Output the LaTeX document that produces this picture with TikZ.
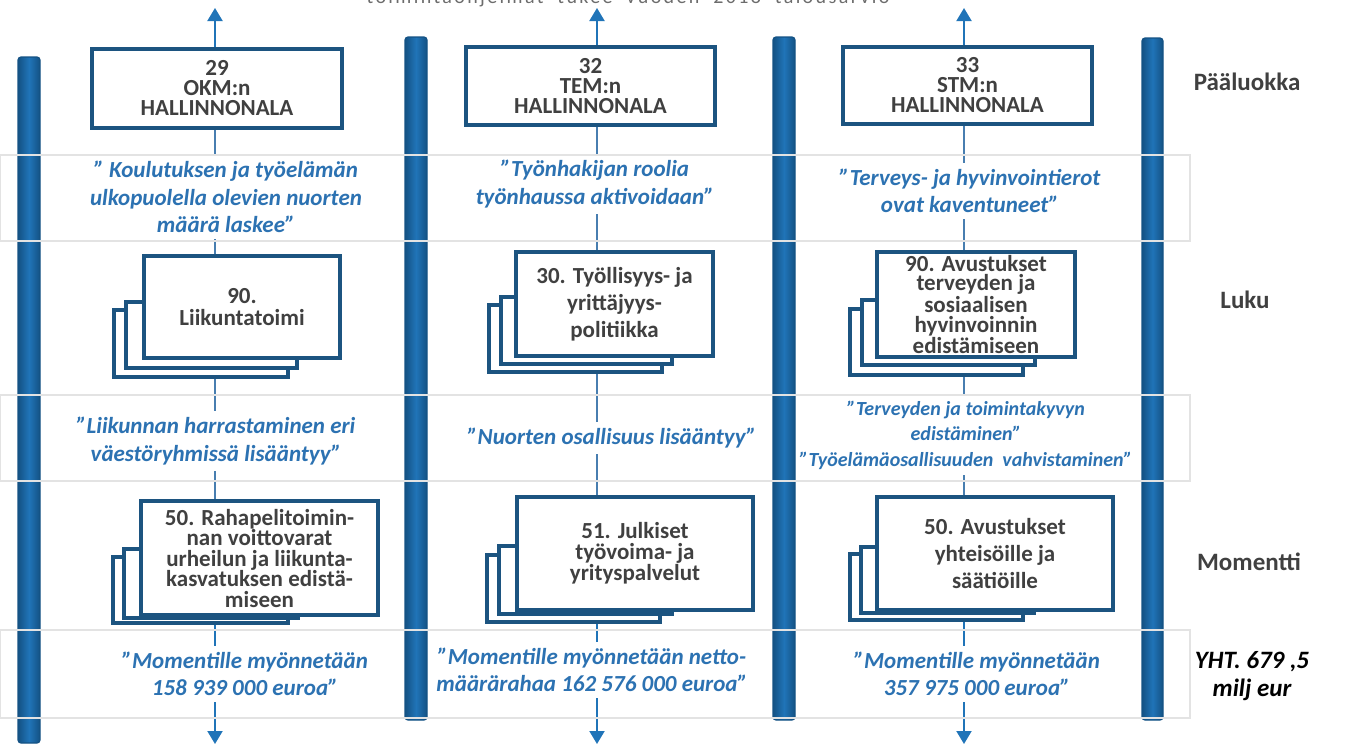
\documentclass[tikz,border=0pt]{standalone}
\usepackage{fontspec}
\setmainfont{Carlito}
\usetikzlibrary{arrows.meta}

\definecolor{barblue}{RGB}{32,116,184}
\definecolor{baredge}{RGB}{20,82,132}
\definecolor{boxblue}{RGB}{28,84,128}
\definecolor{quoteblue}{RGB}{44,114,178}
\definecolor{linkblue}{RGB}{72,126,176}
\definecolor{textgray}{RGB}{64,64,64}

\begin{document}
\begin{tikzpicture}[
  x=0.5pt, y=-0.5pt,
  pillar/.style={
    draw=baredge,
    line width=0.6pt,
    left color=baredge,
    right color=baredge,
    middle color=barblue,
    rounded corners=1.5pt
  },
  band/.style={
    draw=gray!22,
    line width=0.6pt
  },
  pagebox/.style={
    draw=boxblue,
    line width=2pt,
    fill=white,
    anchor=north west,
    inner sep=0pt
  },
  mainbox/.style={
    pagebox,
    align=center,
    text=textgray,
    font=\bfseries\fontsize{11.5}{10}\selectfont
  },
  quote/.style={
    text=quoteblue,
    font=\bfseries\itshape\fontsize{11.5}{13.75}\selectfont,
    align=center,
    fill=white,
    inner xsep=0pt,
    inner ysep=3pt
  },
  link/.style={
    draw=linkblue,
    line width=0.8pt
  },
  flow/.style={
    draw=barblue,
    line width=1pt,
    -{Triangle[width=7.5pt,length=6.5pt]}
  },
  level/.style={
    text=textgray,
    font=\bfseries\fontsize{12.5}{14}\selectfont,
    align=center
  },
]
\useasboundingbox (0,0) rectangle (1348,746);

% columns and free ends
\coordinate (c1) at (215,0);
\coordinate (c2) at (597,0);
\coordinate (c3) at (964,0);
\coordinate (top) at (0,8);
\coordinate (bottom) at (0,744);

% note cut at the top edge
\node[text=gray!85!black, anchor=base,
  font=\fontsize{10}{12}\selectfont\addfontfeature{LetterSpace=12}]
  (note) at (628,3.5) {toimintaohjelmat \ tukee \ vuoden \ 2018 \ talousarvio};

% pillars
\path[pillar] (18,57) rectangle (40,743);
\path[pillar] (405,37) rectangle (427,720);
\path[pillar] (773,37) rectangle (795,720);
\path[pillar] (1142,38) rectangle (1163,720);

% Paaluokka
\node[mainbox, minimum width=125pt, minimum height=39.5pt] (b1) at (90,47)
  {29\\OKM:n\\HALLINNONALA};
\node[mainbox, minimum width=124.5pt, minimum height=39pt] (b2) at (464,45)
  {32\\TEM:n\\HALLINNONALA};
\node[mainbox, minimum width=124.5pt, minimum height=38.5pt] (b3) at (841,45)
  {33\\STM:n\\HALLINNONALA};

% Luku
\node[pagebox, minimum width=87pt, minimum height=33.5pt] (k21) at (112,308) {};
\node[pagebox, minimum width=85.5pt, minimum height=33pt] (m21) at (124,300) {};
\node[mainbox, minimum width=98pt, minimum height=51pt,
  font=\bfseries\fontsize{11.5}{11}\selectfont] (f21) at (142,254)
  {90.\\Liikuntatoimi};
\node[pagebox, minimum width=86.5pt, minimum height=33.5pt] (k22) at (487,303) {};
\node[pagebox, minimum width=85.5pt, minimum height=33.5pt] (m22) at (499,295) {};
\node[mainbox, minimum width=98.5pt, minimum height=52pt,
  font=\bfseries\fontsize{11.5}{13.5}\selectfont] (f22) at (514,250)
  {30. Työllisyys- ja\\yrittäjyys-\\politiikka};
\node[pagebox, minimum width=86.5pt, minimum height=33pt] (k23) at (848,307) {};
\node[pagebox, minimum width=86.5pt, minimum height=32.5pt] (m23) at (860,298) {};
\node[mainbox, minimum width=99pt, minimum height=52.5pt,
  font=\bfseries\fontsize{11.5}{9.7}\selectfont] (f23) at (875,250)
  {90. Avustukset\\terveyden ja\\sosiaalisen\\hyvinvoinnin\\edistämiseen};

% Momentti
\node[pagebox, minimum width=87.5pt, minimum height=33pt] (k31) at (111,555) {};
\node[pagebox, minimum width=87pt, minimum height=34.5pt] (m31) at (122,547) {};
\node[mainbox, minimum width=118.5pt, minimum height=57pt,
  font=\bfseries\fontsize{11.5}{10.25}\selectfont] (f31) at (139,499)
  {50. Rahapelitoimin-\\nan voittovarat\\urheilun ja liikunta-\\kasvatuksen edistä-\\miseen};
\node[pagebox, minimum width=86.5pt, minimum height=33.5pt] (k32) at (485,553) {};
\node[pagebox, minimum width=86.5pt, minimum height=34pt] (m32) at (497,544) {};
\node[mainbox, minimum width=118pt, minimum height=56.5pt,
  font=\bfseries\fontsize{11.5}{10.5}\selectfont] (f32) at (515,495)
  {51. Julkiset\\työvoima- ja\\yrityspalvelut};
\node[pagebox, minimum width=86.5pt, minimum height=33pt] (k33) at (848,552) {};
\node[pagebox, minimum width=86.5pt, minimum height=33pt] (m33) at (859,545) {};
\node[mainbox, minimum width=118pt, minimum height=56.5pt,
  font=\bfseries\fontsize{11.5}{13.5}\selectfont] (f33) at (875,495)
  {50. Avustukset\\yhteisöille ja\\säätiöille};

% connectors
\draw[flow] (c1 |- b1.north) -- (c1 |- top);
\draw[flow] (c2 |- b2.north) -- (c2 |- top);
\draw[flow] (c3 |- b3.north) -- (c3 |- top);
\draw[link] (c1 |- b1.south) -- (c1 |- f21.north);
\draw[link] (c2 |- b2.south) -- (c2 |- f22.north);
\draw[link] (c3 |- b3.south) -- (c3 |- f23.north);
\draw[link] (c1 |- k21.south) -- (c1 |- f31.north);
\draw[link] (c2 |- k22.south) -- (c2 |- f32.north);
\draw[link] (c3 |- k23.south) -- (c3 |- f33.north);
\draw[flow] (c1 |- k31.south) -- (c1 |- bottom);
\draw[flow] (c2 |- k32.south) -- (c2 |- bottom);
\draw[flow] (c3 |- k33.south) -- (c3 |- bottom);

% goals
\node[quote] (q11) at (226,197)
  {” Koulutuksen ja työelämän\\ulkopuolella olevien nuorten\\määrä laskee”};
\node[quote] (q12) at (595,184) {”Työnhakijan roolia\\työnhaussa aktivoidaan”};
\node[quote] (q13) at (970,191) {”Terveys- ja hyvinvointierot\\ovat kaventuneet”};
\node[quote] (q21) at (216,441) {”Liikunnan harrastaminen eri\\väestöryhmissä lisääntyy”};
\node[quote] (q22) at (612,438) {”Nuorten osallisuus lisääntyy”};
\node[quote, font=\bfseries\itshape\fontsize{10}{12.75}\selectfont] (q23) at (966,435)
  {”Terveyden ja toimintakyvyn\\edistäminen”\\”Työelämäosallisuuden \ vahvistaminen”};
\node[quote] (q31) at (245,674) {”Momentille myönnetään\\158 939 000 euroa”};
\node[quote] (q32) at (592,670) {”Momentille myönnetään netto-\\määrärahaa 162 576 000 euroa”};
\node[quote] (q33) at (977,674) {”Momentille myönnetään\\357 975 000 euroa”};

% bands
\draw[band] (0.5,155) rectangle (1190,241);
\draw[band] (0.5,395) rectangle (1190,481);
\draw[band] (0.5,630) rectangle (1190,718);

% levels
\node[level] (lpaa) at (1247,82) {Pääluokka};
\node[level] (lluku) at (1245,300) {Luku};
\node[level] (lmom) at (1249,562) {Momentti};
\node[level, text=black, font=\bfseries\itshape\fontsize{12.5}{14}\selectfont]
  (ltot) at (1252,676) {YHT. 679 ,5\\milj eur};
\end{tikzpicture}
\end{document}
